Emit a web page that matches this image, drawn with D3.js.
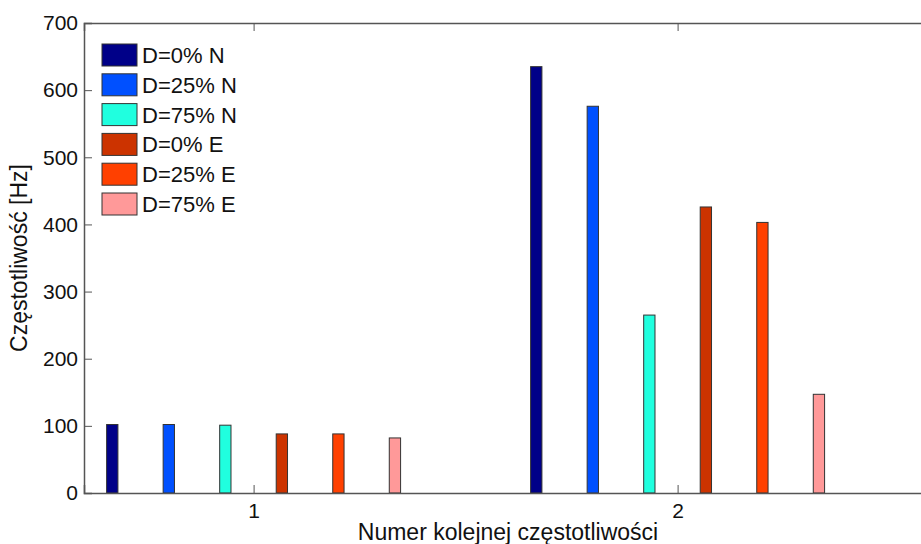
<!DOCTYPE html>
<html>
<head>
<meta charset="utf-8">
<script src="https://cdn.jsdelivr.net/npm/d3@7"></script>
<style>
  html, body { margin: 0; padding: 0; background: #fff; }
  svg { display: block; font-family: Arial, "Liberation Sans", sans-serif; }
</style>
</head>
<body>
<svg id="chart" width="921" height="544"></svg>
<script>
// ---- data ----
const categories = [1, 2];
const seriesNames = ["D=0% N", "D=25% N", "D=75% N", "D=0% E", "D=25% E", "D=75% E"];
const seriesColors = ["#000088", "#0050ff", "#20ffdf", "#cc3300", "#ff4000", "#ff9999"];
const valuesN0  = [102, 635];
const valuesN25 = [102, 576];
const valuesN75 = [101, 265];
const valuesE0  = [88, 426];
const valuesE25 = [88, 403];
const valuesE75 = [82, 147];
const seriesValues = [valuesN0, valuesN25, valuesN75, valuesE0, valuesE25, valuesE75];
const yTicks = [0, 100, 200, 300, 400, 500, 600, 700];
const xLabel = "Numer kolejnej częstotliwości";
const yLabel = "Częstotliwość [Hz]";

// ---- layout ----
const svg = d3.select("#chart");
const L = 84, R = 932, T = 23, B = 493;
const x = d3.scaleLinear().domain([0.6, 2.6]).range([L, R]);
const y = d3.scaleLinear().domain([0, 700]).range([B, T]);
const groupWidth = 0.8;
const nS = seriesNames.length;
const step = groupWidth / nS;
const barW = step * 0.2;
const axisColor = "#555";
const fontSize = 21;

// bars
seriesValues.forEach((vals, si) => {
  const off = (si - (nS - 1) / 2) * step;
  svg.append("g").selectAll("rect")
    .data(vals.map((v, i) => ({ c: categories[i], v })))
    .join("rect")
    .attr("x", d => x(d.c + off - barW / 2))
    .attr("width", d => x(d.c + off + barW / 2) - x(d.c + off - barW / 2))
    .attr("y", d => y(d.v))
    .attr("height", d => y(0) - y(d.v))
    .attr("fill", seriesColors[si])
    .attr("stroke", "#333")
    .attr("stroke-width", 1);
});

// axes
const tickLen = 8;
const yAxisL = d3.axisLeft(y).tickValues(yTicks).tickSize(-tickLen).tickPadding(6).tickFormat(d3.format("d"));
const gy = svg.append("g").attr("transform", `translate(${L},0)`).call(yAxisL);
const yAxisR = d3.axisRight(y).tickValues(yTicks).tickSize(-tickLen).tickFormat("");
const gyr = svg.append("g").attr("transform", `translate(${R},0)`).call(yAxisR);
const xAxisB = d3.axisBottom(x).tickValues(categories).tickSize(-tickLen).tickPadding(10).tickFormat(d3.format("d"));
const gx = svg.append("g").attr("transform", `translate(0,${B})`).call(xAxisB);
const xAxisT = d3.axisTop(x).tickValues(categories).tickSize(-tickLen).tickFormat("");
const gxt = svg.append("g").attr("transform", `translate(0,${T})`).call(xAxisT);

[gy, gyr, gx, gxt].forEach(g => {
  g.select(".domain").attr("stroke", axisColor).attr("stroke-width", 1.5);
  g.selectAll(".tick line").attr("stroke", axisColor).attr("stroke-width", 1);
  g.selectAll("text").attr("font-size", fontSize).attr("fill", "#111")
    .attr("font-family", "Arial, 'Liberation Sans', sans-serif");
});
gy.selectAll(".tick text").attr("x", -6);

// axis labels
svg.append("text")
  .attr("x", (L + R) / 2).attr("y", 540)
  .attr("text-anchor", "middle")
  .attr("font-size", 23).attr("fill", "#111")
  .text(xLabel);
svg.append("text")
  .attr("transform", `translate(27,${(T + B) / 2}) rotate(-90)`)
  .attr("text-anchor", "middle")
  .attr("font-size", 23).attr("fill", "#111")
  .text(yLabel);

// legend
const lg = svg.append("g").attr("transform", "translate(102,44)");
seriesNames.forEach((name, i) => {
  const row = lg.append("g").attr("transform", `translate(0,${i * 29.8})`);
  row.append("rect").attr("width", 35).attr("height", 22)
    .attr("fill", seriesColors[i]).attr("stroke", "#333").attr("stroke-width", 1);
  row.append("text").attr("x", 40).attr("y", 11).attr("dy", "0.36em")
    .attr("font-size", 22).attr("fill", "#111").text(name);
});
</script>
</body>
</html>
